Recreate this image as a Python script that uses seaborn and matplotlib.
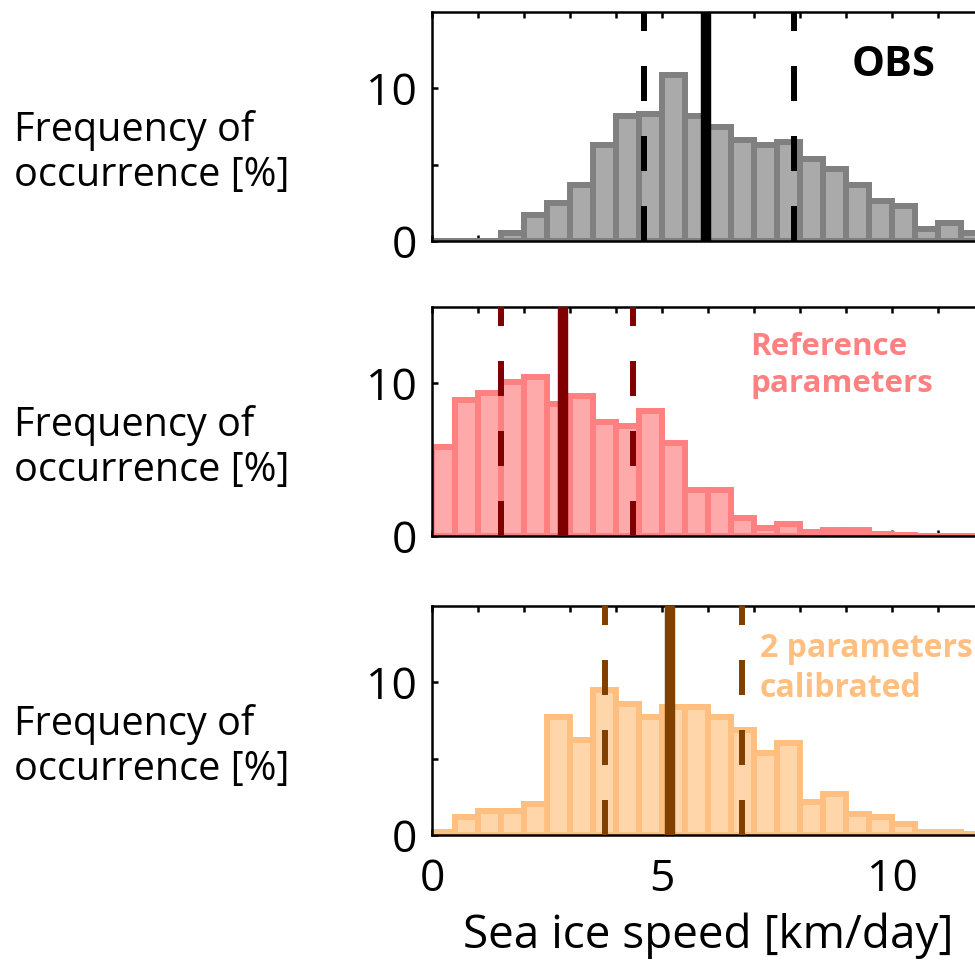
import numpy as np
import pandas as pd
import seaborn as sns
import matplotlib.pyplot as plt

# bin edges (km/day), 0.5 wide
bin_edges = np.arange(0, 12.01, 0.5)
bin_left = bin_edges[:-1]

# frequency of occurrence [%] per bin
obs_freq = [0, 0, 0, 0.5, 1.7, 2.5, 3.7, 6.3, 8.2, 8.3, 10.9, 8.2,
            7.5, 6.6, 6.3, 6.5, 5.4, 4.7, 3.7, 2.65, 2.3, 0.8, 1.2, 0.5]
ref_freq = [5.8, 8.9, 9.35, 10.1, 10.4, 8.65, 9.2, 7.5, 7.2, 8.2, 6.1, 3.0,
            3.0, 1.15, 0.5, 0.8, 0.28, 0.37, 0.37, 0.1, 0.05, 0, 0, 0]
cal_freq = [0.22, 1.2, 1.6, 1.6, 2.0, 7.75, 6.25, 9.5, 8.6, 7.75, 8.4, 8.4,
            7.75, 6.9, 5.35, 6.05, 2.15, 2.7, 1.35, 1.2, 0.7, 0.22, 0.22, 0.05]

# mean and spread lines
obs_lines = [5.96, 4.6, 7.86]
ref_lines = [2.85, 1.5, 4.37]
cal_lines = [5.18, 3.75, 6.75]

panel_labels = ['OBS', 'Reference\nparameters', '2 parameters\ncalibrated']

sns.set_style('ticks')
plt.rcParams['font.family'] = ['Open Sans', 'DejaVu Sans']
plt.rcParams['text.color'] = 'black'
plt.rcParams['axes.labelcolor'] = 'black'
plt.rcParams['xtick.color'] = 'black'
plt.rcParams['ytick.color'] = 'black'

fig = plt.figure(figsize=(9.75, 9.61), dpi=100)

panels = [
    (obs_freq, obs_lines, '#aaaaaa', '#808080', 'black', 'black', 12),
    (ref_freq, ref_lines, '#ffaaaa', '#ff8080', '#800000', '#ff8080', 307),
    (cal_freq, cal_lines, '#ffd5aa', '#ffbf80', '#804000', '#ffbf80', 606),
]

W, H = 975, 961
for i, (freq, lines, face, edge, lc, tc, top_px) in enumerate(panels):
    ax = fig.add_axes([432 / W, 1 - (top_px + 229) / H, 552 / W, 229 / H])
    df = pd.DataFrame({'speed': bin_left + 0.25, 'freq': freq})
    sns.histplot(data=df, x='speed', weights='freq', binwidth=0.5, binrange=(0, 12),
                 ax=ax, color=face, edgecolor=edge, linewidth=4.3, alpha=1)
    for bar in ax.patches:
        bar.set_facecolor(face)
    ax.axvline(lines[0], color=lc, lw=7.5, zorder=5)
    for x in lines[1:]:
        ax.axvline(x, color=lc, lw=4.3, dashes=(5.86, 5.86), zorder=5)
    ax.set_xlim(0, 12)
    ax.set_ylim(0, 15)
    ax.set_yticks([0, 5, 10])
    ax.set_yticklabels(['0', '', '10'])
    ax.set_xticks(np.arange(0, 13, 1))
    if i == 2:
        ax.set_xticklabels(['0', '', '', '', '', '5', '', '', '', '', '10', '', ''])
        ax.set_xlabel('Sea ice speed [km/day]', fontsize=33, labelpad=8)
    else:
        ax.set_xticklabels([])
        ax.set_xlabel('')
    ax.set_ylabel('')
    ax.tick_params(direction='in', top=True, right=True, length=4, width=1.8,
                   labelsize=32, color='black')
    ax.tick_params(axis='x', pad=16)
    ax.tick_params(axis='y', pad=11)
    for s in ax.spines.values():
        s.set_visible(True)
        s.set_linewidth(1.8)
        s.set_color('black')
    if i == 0:
        ax.text(0.836, 0.767, panel_labels[i], transform=ax.transAxes,
                ha='center', va='center', fontsize=30, fontweight='bold', color=tc)
    elif i == 1:
        ax.text(0.577, 0.745, panel_labels[i], transform=ax.transAxes,
                ha='left', va='center', fontsize=22.6, fontweight='bold', color=tc,
                linespacing=1.3)
    else:
        ax.text(0.594, 0.728, panel_labels[i], transform=ax.transAxes,
                ha='left', va='center', fontsize=23, fontweight='bold', color=tc,
                linespacing=1.3)
    fig.text(14 / W, 1 - (top_px + 141) / H, 'Frequency of\noccurrence [%]',
             ha='left', va='center', fontsize=28.5, linespacing=1.18)

fig.savefig('out.png', dpi=100)
